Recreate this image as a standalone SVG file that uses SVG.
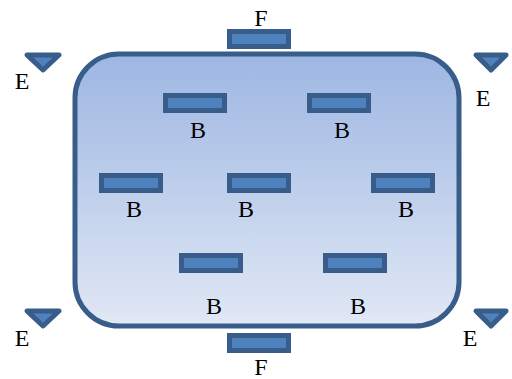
<svg xmlns="http://www.w3.org/2000/svg" width="512" height="379" viewBox="0 0 512 379">
<style>
.port{fill:#4f81bd;stroke:#385d8a;stroke-width:5}
.tri{fill:#4f81bd;stroke:#385d8a;stroke-width:5;stroke-linejoin:round}
text{font-family:"Liberation Serif","Times New Roman",serif;font-size:24px;fill:#000;text-anchor:middle}
</style>
<defs>
<linearGradient id="g" x1="0" y1="0" x2="0" y2="1">
<stop offset="0" stop-color="#9db6e2"/>
<stop offset="1" stop-color="#e1e8f5"/>
</linearGradient>
</defs>
<g id="container">
<rect x="75" y="54" width="384" height="272" rx="44" ry="44" fill="url(#g)" stroke="#385d8a" stroke-width="5"/>
</g>
<g id="F-top"><rect class="port" x="229.5" y="31.5" width="59" height="15"/><text x="261" y="26">F</text></g>
<g id="F-bottom"><rect class="port" x="229.5" y="335.5" width="59" height="15"/><text x="261" y="375">F</text></g>
<g id="B1"><rect class="port" x="165.5" y="95.5" width="59" height="15"/><text x="198" y="138">B</text></g>
<g id="B2"><rect class="port" x="309.5" y="95.5" width="59" height="15"/><text x="342" y="138">B</text></g>
<g id="B3"><rect class="port" x="101.5" y="175.5" width="59" height="15"/><text x="134" y="217">B</text></g>
<g id="B4"><rect class="port" x="229.5" y="175.5" width="59" height="15"/><text x="246" y="217">B</text></g>
<g id="B5"><rect class="port" x="373.5" y="175.5" width="59" height="15"/><text x="406" y="217">B</text></g>
<g id="B6"><rect class="port" x="181.5" y="255.5" width="59" height="15"/><text x="214" y="314">B</text></g>
<g id="B7"><rect class="port" x="325.5" y="255.5" width="59" height="15"/><text x="358" y="314">B</text></g>
<g id="E1"><polygon class="tri" points="27,55 59,55 43,70"/><text x="22" y="89">E</text></g>
<g id="E2"><polygon class="tri" points="476,55 506,55 491,70"/><text x="483" y="106">E</text></g>
<g id="E3"><polygon class="tri" points="27,311 59,311 43,326"/><text x="22" y="346">E</text></g>
<g id="E4"><polygon class="tri" points="476,311 506,311 491,326"/><text x="470" y="346">E</text></g>
<g id="connectors"></g>
</svg>
